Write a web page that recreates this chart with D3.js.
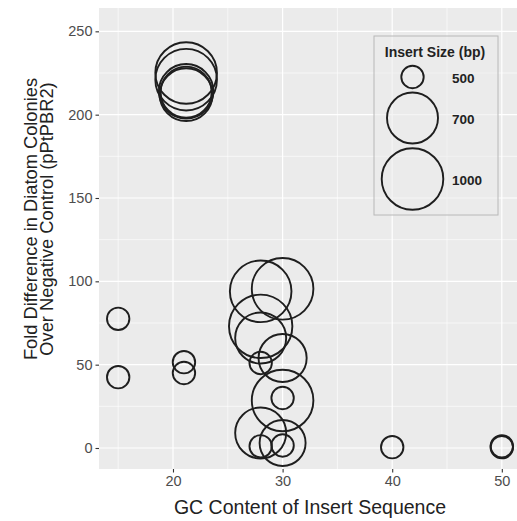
<!DOCTYPE html>
<html>
<head>
<meta charset="utf-8">
<script src="https://cdn.jsdelivr.net/npm/d3@7/dist/d3.min.js"></script>
<style>
  body { margin: 0; background: #fff; }
  text { font-family: "Liberation Sans", Arial, Helvetica, sans-serif; }
</style>
</head>
<body>
<div id="chart"></div>
<script>
// Data
const gcContent  = [15, 15, 21, 21, 21.2, 21.2, 21.2, 21.2, 21.2, 28, 30, 28, 28, 28, 30, 30, 30, 28, 30, 28, 30, 40, 50, 50];
const foldDiff   = [77.5, 42.5, 51.5, 45, 225, 221, 214, 213.5, 212, 94, 95.5, 73, 66, 51, 54, 28.5, 30, 9, 3, 1, 1.5, 0.5, 0.5, 1];
const insertSize = [500, 500, 500, 500, 1000, 1000, 800, 700, 750, 1000, 1000, 1050, 700, 500, 680, 1000, 500, 700, 665, 500, 500, 500, 500, 500];

const xTicks = [20, 30, 40, 50];
const xMinor = [15, 25, 35, 45];
const yTicks = [0, 50, 100, 150, 200, 250];
const yMinor = [25, 75, 125, 175, 225];
const sizeBreaks = [500, 700, 1000];

const data = gcContent.map((d, i) => ({ gc: d, fold: foldDiff[i], size: insertSize[i] }));

// Panel geometry
const width = 517, height = 521;
const panel = { left: 99, top: 8, right: 521, bottom: 469 };

const svg = d3.select("#chart")
  .append("svg")
  .attr("width", width)
  .attr("height", height);

// Scales
const x = d3.scaleLinear()
  .domain([13.25, 51.75])
  .range([panel.left, panel.right]);

const y = d3.scaleLinear()
  .domain([-12.6, 264])
  .range([panel.bottom, panel.top]);

// radius calibrated on the legend keys
const r = d3.scaleLinear()
  .domain([500, 700, 1000])
  .range([11.2, 25.5, 30.8]);

// Panel background
svg.append("rect")
  .attr("x", panel.left)
  .attr("y", panel.top)
  .attr("width", panel.right - panel.left)
  .attr("height", panel.bottom - panel.top)
  .attr("fill", "#ebebeb");

// Grid lines
const grid = svg.append("g");
grid.selectAll(".xminor").data(xMinor).enter().append("line")
  .attr("x1", d => x(d)).attr("x2", d => x(d))
  .attr("y1", panel.top).attr("y2", panel.bottom)
  .attr("stroke", "#fff").attr("stroke-width", 0.6);
grid.selectAll(".yminor").data(yMinor).enter().append("line")
  .attr("x1", panel.left).attr("x2", panel.right)
  .attr("y1", d => y(d)).attr("y2", d => y(d))
  .attr("stroke", "#fff").attr("stroke-width", 0.6);
grid.selectAll(".xmajor").data(xTicks).enter().append("line")
  .attr("x1", d => x(d)).attr("x2", d => x(d))
  .attr("y1", panel.top).attr("y2", panel.bottom)
  .attr("stroke", "#fff").attr("stroke-width", 1.2);
grid.selectAll(".ymajor").data(yTicks).enter().append("line")
  .attr("x1", panel.left).attr("x2", panel.right)
  .attr("y1", d => y(d)).attr("y2", d => y(d))
  .attr("stroke", "#fff").attr("stroke-width", 1.2);

// Axes
const xAxis = svg.append("g")
  .attr("transform", `translate(0,${panel.bottom})`)
  .call(d3.axisBottom(x).tickValues(xTicks).tickSize(3.5).tickPadding(3));

const yAxis = svg.append("g")
  .attr("transform", `translate(${panel.left},0)`)
  .call(d3.axisLeft(y).tickValues(yTicks).tickSize(3.5).tickPadding(3));

[xAxis, yAxis].forEach(a => {
  a.select(".domain").remove();
  a.selectAll(".tick line").attr("stroke", "#333").attr("stroke-width", 1.1);
  a.selectAll(".tick text")
    .attr("fill", "#4d4d4d")
    .style("font-size", "14.5px")
    .style("font-family", "'Liberation Sans', Arial, sans-serif");
});

// Axis titles
svg.append("text")
  .attr("x", (panel.left + panel.right) / 2)
  .attr("y", 514)
  .attr("text-anchor", "middle")
  .attr("fill", "#222")
  .style("font-size", "19.5px")
  .text("GC Content of Insert Sequence");

const yTitle = svg.append("text")
  .attr("transform", "rotate(-90)")
  .attr("text-anchor", "middle")
  .attr("fill", "#222")
  .style("font-size", "18.3px");
yTitle.append("tspan").attr("x", -219).attr("y", 36.5).text("Fold Difference in Diatom Colonies");
yTitle.append("tspan").attr("x", -219).attr("y", 52.5).text("Over Negative Control (pPtPBR2)");

// Points
svg.append("g")
  .selectAll("circle")
  .data(data)
  .enter()
  .append("circle")
  .attr("cx", d => x(d.gc))
  .attr("cy", d => y(d.fold))
  .attr("r", d => r(d.size))
  .attr("fill", "none")
  .attr("stroke", "#1e1e1e")
  .attr("stroke-width", 1.9);

// Legend
const legend = svg.append("g").attr("transform", "translate(374,36)");

legend.append("rect")
  .attr("x", 0).attr("y", 0)
  .attr("width", 124).attr("height", 179)
  .attr("fill", "#ebebeb")
  .attr("fill-opacity", 0.55)
  .attr("stroke", "#b8b8b8")
  .attr("stroke-width", 1);

legend.append("text")
  .attr("x", 61).attr("y", 21)
  .attr("text-anchor", "middle")
  .attr("fill", "#222")
  .style("font-size", "14px")
  .style("font-weight", "bold")
  .text("Insert Size (bp)");

const keyY = [41, 82, 143];
sizeBreaks.forEach((s, i) => {
  legend.append("circle")
    .attr("cx", 38.5)
    .attr("cy", keyY[i])
    .attr("r", r(s))
    .attr("fill", "none")
    .attr("stroke", "#1e1e1e")
    .attr("stroke-width", 1.9);

  legend.append("text")
    .attr("x", 78)
    .attr("y", keyY[i] + 2)
    .attr("dominant-baseline", "middle")
    .attr("fill", "#222")
    .style("font-size", "13.5px")
    .style("font-weight", "bold")
    .text(s);
});
</script>
</body>
</html>
